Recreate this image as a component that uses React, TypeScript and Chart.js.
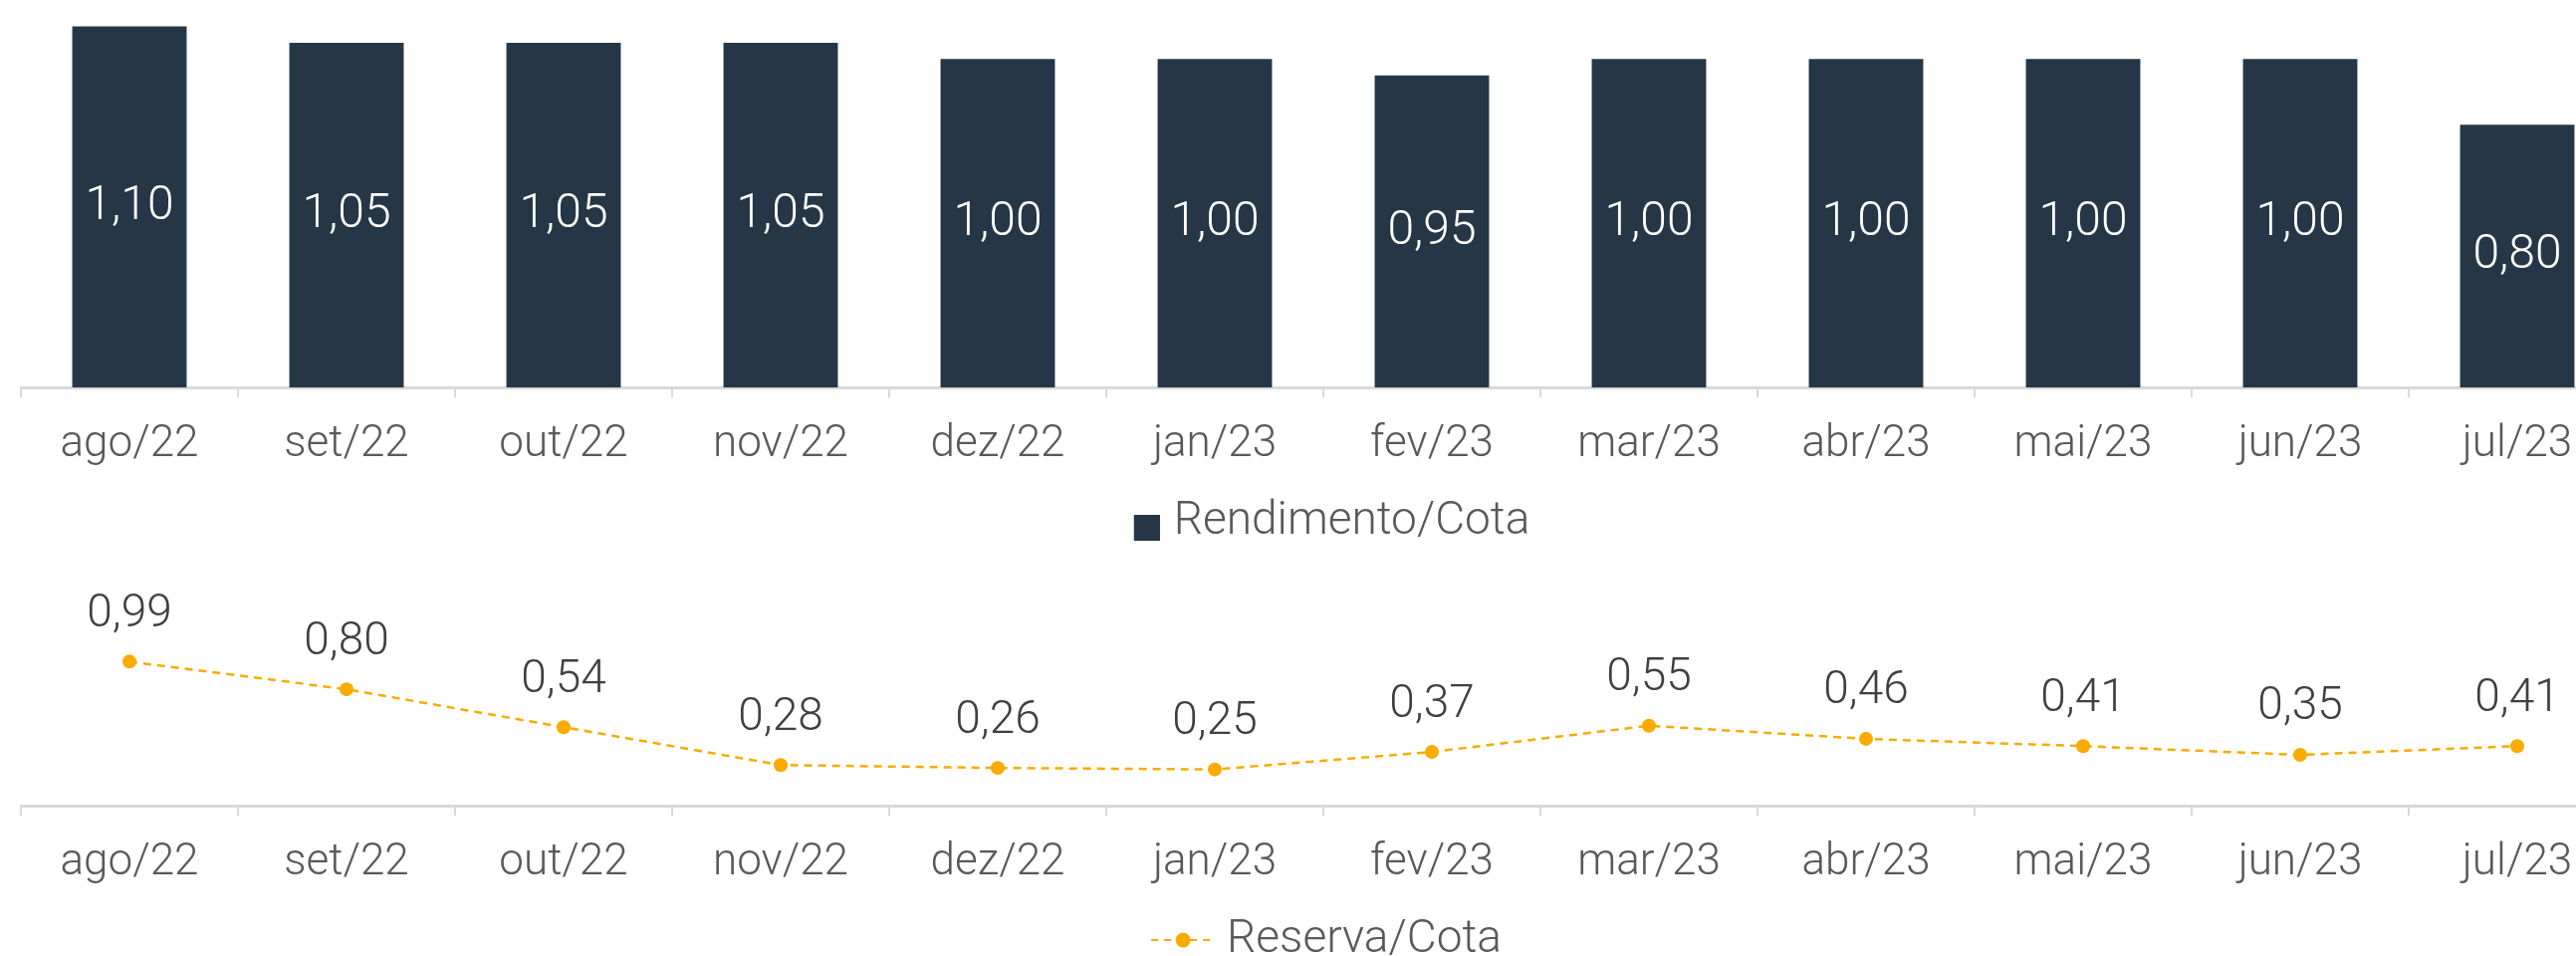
import React, { useEffect, useRef } from "react";
import { Chart, registerables } from "chart.js";

Chart.register(...registerables);

const categories = ["ago/22", "set/22", "out/22", "nov/22", "dez/22", "jan/23", "fev/23", "mar/23", "abr/23", "mai/23", "jun/23", "jul/23"];
const rendimentoCota = [1.10, 1.05, 1.05, 1.05, 1.00, 1.00, 0.95, 1.00, 1.00, 1.00, 1.00, 0.80];
const reservaCota = [0.99, 0.80, 0.54, 0.28, 0.26, 0.25, 0.37, 0.55, 0.46, 0.41, 0.35, 0.41];

const FONT = "Roboto";
const BAR_COLOR = "#253746";
const LINE_COLOR = "#F9AB00";
const AXIS_COLOR = "#D9D9D9";
const TICK_TEXT = "#595959";
const LEGEND_FONT = 46;

const fmt = (v: number) => v.toFixed(2).replace(".", ",");

const barLabelsPlugin = {
  id: "barLabels",
  afterDatasetsDraw(chart: any) {
    const ctx = chart.ctx;
    ctx.save();
    ctx.font = `300 48px ${FONT}`;
    ctx.fillStyle = "#FFFFFF";
    ctx.textAlign = "center";
    ctx.textBaseline = "middle";
    const meta = chart.getDatasetMeta(0);
    meta.data.forEach((el: any, i: number) => {
      const v = chart.data.datasets[0].data[i];
      ctx.fillText(fmt(v), el.x, (el.y + el.base) / 2);
    });
    ctx.restore();
  },
};

const lineLabelsPlugin = {
  id: "lineLabels",
  afterDatasetsDraw(chart: any) {
    const ctx = chart.ctx;
    ctx.save();
    ctx.font = `300 46px ${FONT}`;
    ctx.fillStyle = "#404040";
    ctx.textAlign = "center";
    ctx.textBaseline = "middle";
    const meta = chart.getDatasetMeta(0);
    meta.data.forEach((el: any, i: number) => {
      const v = chart.data.datasets[0].data[i];
      ctx.fillText(fmt(v), el.x, el.y - 47);
    });
    ctx.restore();
  },
};

// Square legend marker: drawn offset right/down inside a transparent canvas
function makeSquareIcon() {
  const c = document.createElement("canvas");
  c.width = 52;
  c.height = 38;
  const g = c.getContext("2d")!;
  g.fillStyle = BAR_COLOR;
  g.fillRect(26, 12, 26, 26);
  return c;
}

// Dashed line with dot legend marker, offset right inside a transparent canvas
function makeLineIcon() {
  const off = 17;
  const c = document.createElement("canvas");
  c.width = 64 + off;
  c.height = 16;
  const g = c.getContext("2d")!;
  g.strokeStyle = LINE_COLOR;
  g.lineWidth = 2;
  g.setLineDash([7, 6]);
  g.beginPath();
  g.moveTo(off, 8);
  g.lineTo(off + 64, 8);
  g.stroke();
  g.setLineDash([]);
  g.fillStyle = LINE_COLOR;
  g.beginPath();
  g.arc(off + 32, 8, 7.5, 0, Math.PI * 2);
  g.fill();
  return c;
}

const xScale = (fontSize: number) => ({
  offset: true,
  grid: {
    offset: true,
    drawOnChartArea: false,
    drawTicks: true,
    tickLength: 10,
    color: AXIS_COLOR,
    lineWidth: 2,
  },
  border: { display: true, color: AXIS_COLOR, width: 3 },
  ticks: {
    color: TICK_TEXT,
    padding: 21,
    maxRotation: 0,
    autoSkip: false,
    font: { family: FONT, size: fontSize, weight: "300" },
  },
});

const legendOpts = (icon: HTMLCanvasElement, label: string, boxW: number) => ({
  position: "bottom" as const,
  labels: {
    color: TICK_TEXT,
    usePointStyle: true,
    pointStyleWidth: boxW,
    padding: 7,
    font: { family: FONT, size: LEGEND_FONT, weight: "300" },
    generateLabels: () => [
      {
        text: label,
        fillStyle: "transparent",
        strokeStyle: "transparent",
        lineWidth: 0,
        pointStyle: icon,
        hidden: false,
        datasetIndex: 0,
        fontColor: TICK_TEXT,
      },
    ],
  },
});

export default function App() {
  const topRef = useRef<HTMLCanvasElement>(null);
  const botRef = useRef<HTMLCanvasElement>(null);

  useEffect(() => {
    const sq = makeSquareIcon();
    const top = new Chart(topRef.current!, {
      type: "bar",
      data: {
        labels: categories,
        datasets: [
          {
            label: "Rendimento/Cota",
            data: rendimentoCota,
            backgroundColor: BAR_COLOR,
            borderWidth: 0,
            categoryPercentage: 1,
            barPercentage: 0.527,
          },
        ],
      },
      options: {
        responsive: false,
        animation: false,
        layout: { padding: { left: 21, right: 23, top: 0, bottom: 0 } },
        scales: {
          x: xScale(44) as any,
          y: { display: false, min: 0, max: 1.18 },
        },
        plugins: {
          tooltip: { enabled: false },
          legend: legendOpts(sq, "Rendimento/Cota", 34) as any,
        },
      },
      plugins: [barLabelsPlugin],
    });

    const icon = makeLineIcon();
    const bot = new Chart(botRef.current!, {
      type: "line",
      data: {
        labels: categories,
        datasets: [
          {
            label: "Reserva/Cota",
            data: reservaCota,
            borderColor: LINE_COLOR,
            backgroundColor: LINE_COLOR,
            borderWidth: 2.5,
            borderDash: [8, 6],
            pointRadius: 7,
            pointStyle: "circle",
            pointBackgroundColor: LINE_COLOR,
            pointBorderWidth: 0,
            fill: false,
            tension: 0,
          },
        ],
      },
      options: {
        responsive: false,
        animation: false,
        layout: { padding: { left: 21, right: 23, top: 40, bottom: 0 } },
        scales: {
          x: xScale(44) as any,
          y: { display: false, min: 0, max: 1.43 },
        },
        plugins: {
          tooltip: { enabled: false },
          legend: legendOpts(icon, "Reserva/Cota", 59) as any,
        },
      },
      plugins: [lineLabelsPlugin],
    });

    return () => {
      top.destroy();
      bot.destroy();
    };
  }, []);

  return (
    <div
      style={{
        position: "fixed",
        left: 0,
        top: 0,
        width: 2587,
        height: 960,
        overflow: "hidden",
        background: "#FFFFFF",
      }}
    >
      <canvas
        ref={topRef}
        width={2660}
        height={557}
        style={{ position: "absolute", left: 0, top: 0, display: "block" }}
      />
      <canvas
        ref={botRef}
        width={2660}
        height={417}
        style={{ position: "absolute", left: 0, top: 560, display: "block" }}
      />
    </div>
  );
}
